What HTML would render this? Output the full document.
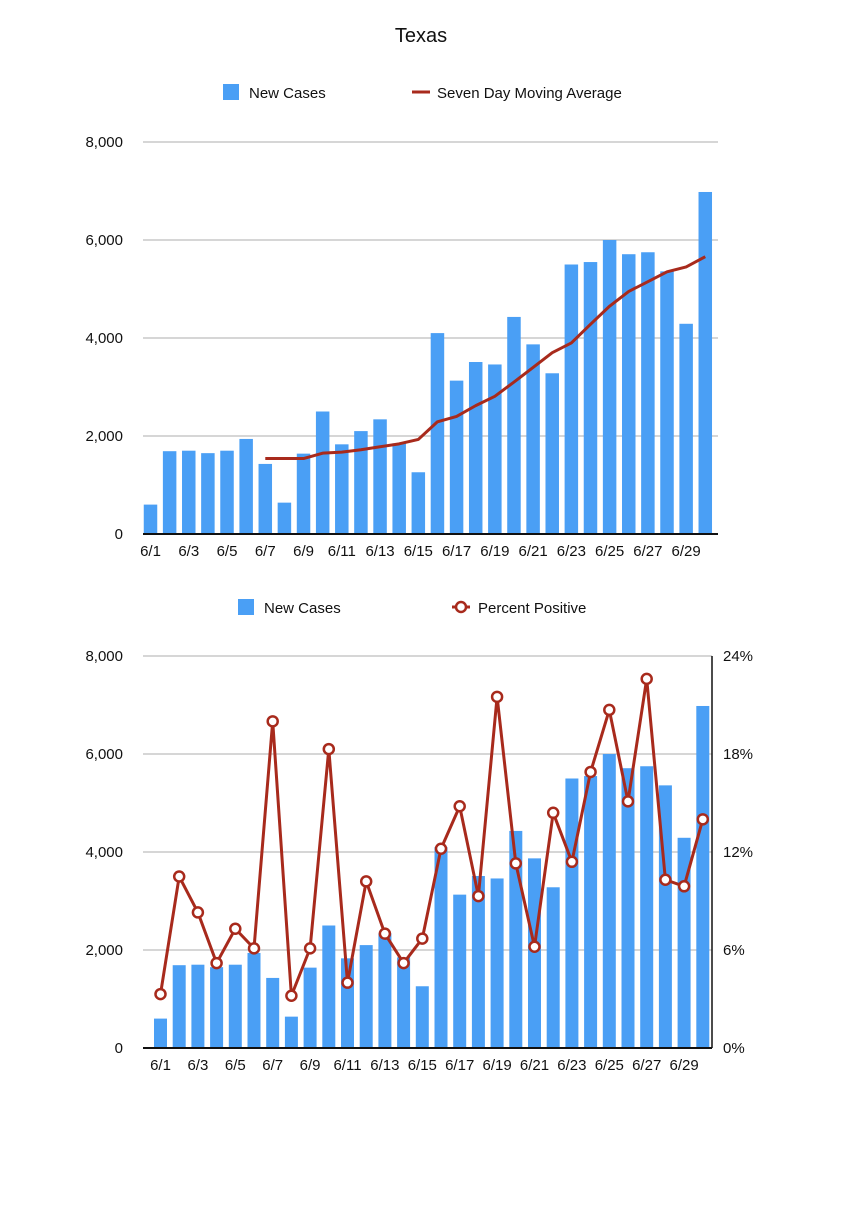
<!DOCTYPE html>
<html><head><meta charset="utf-8"><style>
body{margin:0;background:#fff;font-family:"Liberation Sans",Arial,sans-serif;}
svg text{font-family:"Liberation Sans",Arial,sans-serif;fill:#111;}
</style></head><body>
<svg id="c" width="842" height="1200" xmlns="http://www.w3.org/2000/svg">
<rect width="842" height="1200" fill="#fff"/>
<text x="421" y="42" font-size="20" text-anchor="middle">Texas</text>
<g>
<rect x="223" y="84" width="16" height="16" fill="#4a9ff5"/>
<text x="249" y="98" font-size="15">New Cases</text>
<line x1="412" y1="92" x2="430" y2="92" stroke="#a82a1c" stroke-width="3"/>
<text x="437" y="98" font-size="15">Seven Day Moving Average</text>
</g>
<g>
<rect x="238" y="599" width="16" height="16" fill="#4a9ff5"/>
<text x="264" y="613" font-size="15">New Cases</text>
<line x1="452" y1="607" x2="470" y2="607" stroke="#a82a1c" stroke-width="3"/>
<circle cx="461" cy="607" r="5" fill="#fff" stroke="#a82a1c" stroke-width="2.5"/>
<text x="478" y="613" font-size="15">Percent Positive</text>
</g>
<g id="g1"></g>
<g id="g2"></g>
</svg>
<script>
const days = ["6/1","6/2","6/3","6/4","6/5","6/6","6/7","6/8","6/9","6/10","6/11","6/12","6/13","6/14","6/15","6/16","6/17","6/18","6/19","6/20","6/21","6/22","6/23","6/24","6/25","6/26","6/27","6/28","6/29","6/30"];
const newCases = [600,1690,1700,1650,1700,1940,1430,640,1640,2500,1830,2100,2340,1850,1260,4100,3130,3510,3460,4430,3870,3280,5500,5550,6000,5710,5750,5360,4290,6980];
const movingAvg = [null,null,null,null,null,null,1540,1540,1540,1650,1670,1720,1780,1840,1930,2290,2400,2620,2810,3100,3400,3700,3900,4280,4650,4950,5150,5350,5450,5660];
const percentPositive = [3.3,10.5,8.3,5.2,7.3,6.1,20.0,3.2,6.1,18.3,4.0,10.2,7.0,5.2,6.7,12.2,14.8,9.3,21.5,11.3,6.2,14.4,11.4,16.9,20.7,15.1,22.6,10.3,9.9,14.0];
const leftTicks = [0,2000,4000,6000,8000];
const rightTicks = [0,6,12,18,24];
const NS="http://www.w3.org/2000/svg";
function mk(parent,tag,attrs){const e=document.createElementNS(NS,tag);for(const k in attrs)e.setAttribute(k,attrs[k]);parent.appendChild(e);return e;}
function fmt(v){return v.toLocaleString("en-US");}
function chart(g,cfg){
  const yL=v=>cfg.base-(v/8000)*(cfg.base-cfg.top);
  const xC=i=>cfg.x0+i*cfg.pitch;
  leftTicks.forEach(t=>{
    if(t>0){const l=mk(g,"line",{x1:143,x2:cfg.gridR,y1:yL(t),y2:yL(t),stroke:"#bdbdbd","stroke-width":1.2});
    
    }
    const tx=mk(g,"text",{x:123,y:yL(t)+5,"font-size":15,"text-anchor":"end"});tx.textContent=fmt(t);
    
    
  });
  newCases.forEach((v,i)=>{
    const r=mk(g,"rect",{x:xC(i)-cfg.bw/2,y:yL(v),width:cfg.bw,height:cfg.base-yL(v),fill:"#4a9ff5"});
    
    
  });
  const ax=mk(g,"line",{x1:143,x2:cfg.gridR,y1:cfg.base,y2:cfg.base,stroke:"#111","stroke-width":2});
  
  
  days.forEach((d,i)=>{if(i%2===0){const t=mk(g,"text",{x:xC(i),y:cfg.base+22,"font-size":15,"text-anchor":"middle"});t.textContent=d;
    
    }});
  return {yL,xC};
}
const g1=document.getElementById("g1");
const c1=chart(g1,{base:534,top:142,x0:150.5,pitch:19.13,bw:13.5,gridR:718});
let pts=[];movingAvg.forEach((v,i)=>{if(v!==null)pts.push(c1.xC(i)+","+c1.yL(v));});
const ma=mk(g1,"polyline",{points:pts.join(" "),fill:"none",stroke:"#a82a1c","stroke-width":3,"stroke-linejoin":"round"});


const g2=document.getElementById("g2");
const c2=chart(g2,{base:1048,top:656,x0:160.5,pitch:18.7,bw:13,gridR:712});
const ra=mk(g2,"line",{x1:712,x2:712,y1:656,y2:1048,stroke:"#111","stroke-width":1.5});


const yR=v=>1048-(v/24)*392;
rightTicks.forEach(t=>{const tx=mk(g2,"text",{x:723,y:yR(t)+5,"font-size":15});tx.textContent=t+"%";
  
  });
const pp=mk(g2,"polyline",{points:percentPositive.map((v,i)=>c2.xC(i)+","+yR(v)).join(" "),fill:"none",stroke:"#a82a1c","stroke-width":3,"stroke-linejoin":"round"});


percentPositive.forEach((v,i)=>{const c=mk(g2,"circle",{cx:c2.xC(i),cy:yR(v),r:5,fill:"#fff",stroke:"#a82a1c","stroke-width":2.5});
  
  });
</script>
</body></html>
